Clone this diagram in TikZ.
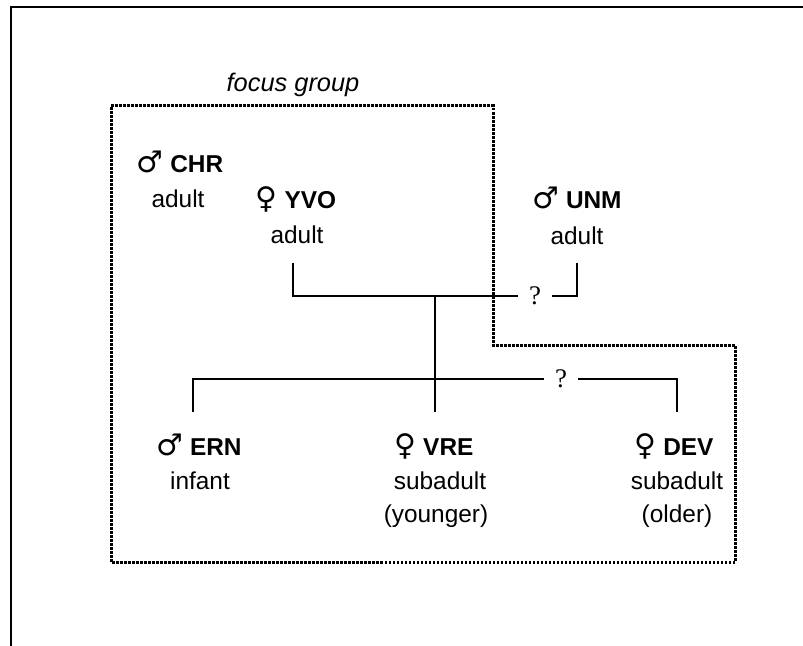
\documentclass[tikz,border=0pt]{standalone}
\usepackage{fontspec}
\setmainfont{Liberation Sans}
\newfontfamily\symf{DejaVu Sans}
\newfontfamily\serf{Liberation Serif}
\newcommand\malesym{{\symf\fontsize{30}{34}\selectfont ♂}}
\newcommand\femsym{{\symf\fontsize{30}{34}\selectfont ♀}}
\tikzset{
  txt/.style={font=\fontsize{24.5}{34}\selectfont, inner sep=0pt, anchor=base},
  qm/.style={font=\serf\fontsize{27}{30}\selectfont, inner xsep=11bp, inner ysep=2bp},
  kin/.style={line width=2.7bp, line join=miter},
  grp/.style={line width=3bp, dash pattern=on 2.5bp off 1.5bp},
  framel/.style={line width=1.5bp}
}
\begin{document}
\begin{tikzpicture}[x=1bp,y=-1bp]
\useasboundingbox (0,0) rectangle (803,646);
% frame
\coordinate (fr1) at (803,7);
\coordinate (fr2) at (11,7);
\coordinate (fr3) at (11,646);
\draw[framel] (fr1) -- (fr2) -- (fr3);
% focus group
\coordinate (g1) at (111,106);
\coordinate (g2) at (493,106);
\coordinate (g3) at (493,345);
\coordinate (g4) at (735,345);
\coordinate (g5) at (735,562);
\coordinate (g6) at (111,562);
\draw[grp] (g1) -- (g2) -- (g3) -- (g4) -- (g5) -- (g6) -- cycle;
\node[txt, font=\itshape\fontsize{25.5}{34}\selectfont] (fg) at (293,92) {focus group};
% individuals
\node[txt] (chr) at (180,173) {\malesym\ \textbf{CHR}};
\node[txt] (chrA) at (178,208) {adult};
\node[txt] (yvo) at (296,209) {\femsym\ \textbf{YVO}};
\node[txt] (yvoA) at (297,243) {adult};
\node[txt] (unm) at (577,209) {\malesym\ \textbf{UNM}};
\node[txt] (unmA) at (577,244) {adult};
\node[txt] (ern) at (199,455) {\malesym\ \textbf{ERN}};
\node[txt] (ernA) at (200,489) {infant};
\node[txt] (vre) at (434,455) {\femsym\ \textbf{VRE}};
\node[txt] (vreA) at (440,489) {subadult};
\node[txt] (vreB) at (436,522) {(younger)};
\node[txt] (dev) at (674,455) {\femsym\ \textbf{DEV}};
\node[txt] (devA) at (677,489) {subadult};
\node[txt] (devB) at (677,522) {(older)};
% kinship lines
\coordinate (yvoT) at (293,263);
\coordinate (unmT) at (577,263);
\coordinate (m1) at (293,296);
\coordinate (m2) at (577,296);
\coordinate (j1) at (435,296);
\coordinate (c1) at (193,379);
\coordinate (c3) at (677,379);
\coordinate (ernT) at (193,412);
\coordinate (vreT) at (435,412);
\coordinate (devT) at (677,412);
\node[qm] (q1) at (535,296) {?};
\node[qm] (q2) at (561,379) {?};
\draw[kin] (yvoT) -- (m1) -- (q1);
\draw[kin] (q1) -- (m2) -- (unmT);
\draw[kin] (j1) -- (vreT);
\draw[kin] (ernT) -- (c1) -- (q2);
\draw[kin] (q2) -- (c3) -- (devT);
\end{tikzpicture}
\end{document}
